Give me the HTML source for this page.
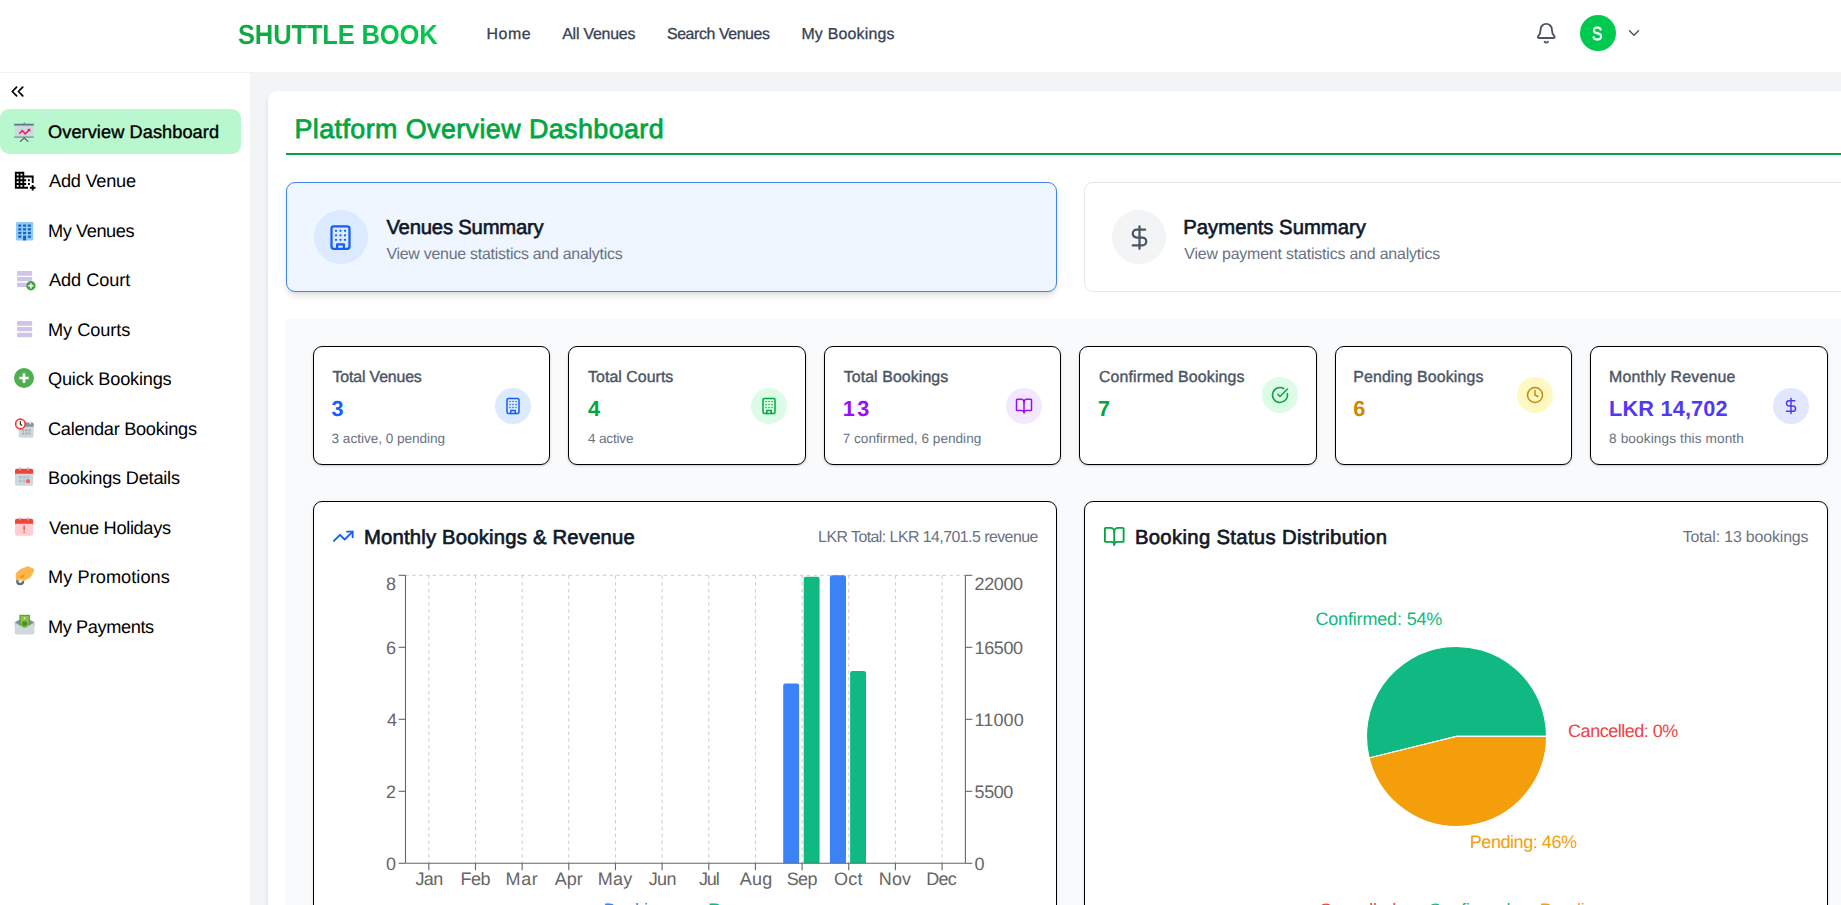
<!DOCTYPE html>
<html><head><meta charset="utf-8"><title>Shuttle Book</title>
<style>
*{box-sizing:border-box}
html,body{margin:0;padding:0}
body{width:1841px;height:905px;overflow:hidden;position:relative;background:#f3f4f6;font-family:"Liberation Sans",sans-serif}
.t{position:absolute;line-height:1;white-space:nowrap;text-rendering:geometricPrecision;font-family:"Liberation Sans",sans-serif}
.a{position:absolute}
svg{position:absolute;overflow:visible}
.lu{fill:none;stroke-width:2;stroke-linecap:round;stroke-linejoin:round}
.stat{position:absolute;top:346px;width:237px;height:119px;background:#fff;border:1px solid #000;border-radius:9px;box-shadow:0 1px 3px rgba(0,0,0,.12),0 1px 2px rgba(0,0,0,.08)}
.circ{position:absolute;width:36px;height:36px;border-radius:50%}
.panel{position:absolute;top:501px;width:744px;height:480px;background:#fff;border:1px solid #000;border-radius:9px;box-shadow:0 1px 3px rgba(0,0,0,.12)}

</style></head>
<body>
<!-- header -->
<div class="a" style="left:0;top:0;width:1841px;height:73.3px;background:#fff;border-bottom:1px solid #f1f2f4"></div>
<svg class="lu" style="left:1535.1px;top:21.9px" width="22.5" height="22.5" viewBox="0 0 24 24" stroke="#4a5565"><path d="M10.268 21a2 2 0 0 0 3.464 0"/><path d="M3.262 15.326A1 1 0 0 0 4 17h16a1 1 0 0 0 .74-1.673C19.41 13.956 18 12.499 18 8A6 6 0 0 0 6 8c0 4.499-1.411 5.956-2.738 7.326"/></svg>
<div class="a" style="left:1579.5px;top:14.8px;width:36px;height:36px;border-radius:50%;background:#00c950"></div>
<svg class="lu" style="left:1625px;top:24px" width="18" height="18" viewBox="0 0 24 24" stroke="#4a5565"><path d="m6 9 6 6 6-6"/></svg>

<!-- sidebar -->
<div class="a" style="left:0;top:73px;width:250px;height:840px;background:#fff"></div>
<svg class="lu" style="left:6.5px;top:80.6px" width="21" height="21" viewBox="0 0 24 24" stroke="#000"><path d="m11 17-5-5 5-5"/><path d="m18 17-5-5 5-5"/></svg>
<div class="a" style="left:0;top:108.8px;width:241px;height:45.2px;background:#b9f8cf;border-radius:9px"></div>
<!-- 0 overview: presentation board (box origin 14,121.4 ; 20x20 units=px) -->
<svg style="left:14px;top:121.8px" width="20" height="20" viewBox="0 0 20 20">
<rect x="9.700" y="0.500" width="1" height="1.500" fill="#546e7a"/>
<rect x="1" y="3.500" width="18.500" height="11" fill="#cfd8dc"/>
<rect x="0.100" y="1.700" width="19.700" height="1.900" fill="#607d8b"/>
<rect x="0.100" y="14.300" width="19.700" height="1.600" fill="#8a9fa9"/>
<path d="M10.200 16 L6.500 19.200 M10.200 16 L13.900 19.200" stroke="#546e7a" stroke-width="1.300" stroke-linecap="round" fill="none"/>
<path d="M5.200 11.700 L8.300 8.700 L11.200 11.900 L15 8.200" stroke="#e91e63" stroke-width="1.500" fill="none" stroke-linejoin="miter"/>
<path d="M13 6.900 L16.400 6.700 L16.200 10.100 Z" fill="#e91e63"/>
</svg>
<!-- 1 add venue: material domain_add -->
<svg style="left:13.100px;top:169px" width="22.500" height="22.500" viewBox="0 0 24 24" fill="#000"><path d="M12 7V3H2v18h14v-2h-4v-2h2v-2h-2v-2h2v-2h-2V9h8v6h2V7H12zM6 19H4v-2h2v2zm0-4H4v-2h2v2zm0-4H4V9h2v2zm0-4H4V5h2v2zm4 12H8v-2h2v2zm0-4H8v-2h2v2zm0-4H8V9h2v2zm0-4H8V5h2v2zm14 12v2h-2v2h-2v-2h-2v-2h2v-2h2v2h2zm-6-8h-2v2h2v-2zm0 4h-2v2h2v-2z"/></svg>
<!-- 2 my venues: blue building -->
<svg style="left:15.700px;top:221.600px" width="17.200" height="18.400" viewBox="0 0 17.200 18.400">
<rect x="0" y="0" width="17.200" height="18.400" rx="1.200" fill="#90caf9"/>
<g fill="#1565c0">
<rect x="2.300" y="2.500" width="3" height="2.200"/><rect x="7.100" y="2.500" width="3" height="2.200"/><rect x="11.900" y="2.500" width="3" height="2.200"/>
<rect x="2.300" y="6.200" width="3" height="2.200"/><rect x="7.100" y="6.200" width="3" height="2.200"/><rect x="11.900" y="6.200" width="3" height="2.200"/>
<rect x="2.300" y="9.900" width="3" height="2.200"/><rect x="7.100" y="9.900" width="3" height="2.200"/><rect x="11.900" y="9.900" width="3" height="2.200"/>
<rect x="2.300" y="13.600" width="3" height="2.200"/><rect x="7.100" y="13.600" width="3" height="4.800"/><rect x="11.900" y="13.600" width="3" height="2.200"/>
</g></svg>
<!-- 3 add court -->
<svg style="left:16.700px;top:271px" width="20" height="20" viewBox="0 0 20 20">
<rect x="0" y="0" width="15.200" height="4.800" rx="1" fill="#d1c4e9"/>
<rect x="0" y="6" width="15.200" height="4.300" rx="1" fill="#d1c4e9"/>
<rect x="0" y="11.800" width="15.200" height="4.300" rx="1" fill="#d1c4e9"/>
<circle cx="13.900" cy="14.800" r="4.700" fill="#43a047"/>
<path d="M13.900 12.200v5.200M11.300 14.800h5.200" stroke="#fff" stroke-width="1.500"/>
</svg>
<!-- 4 my courts -->
<svg style="left:16.700px;top:320.800px" width="20" height="20" viewBox="0 0 20 20">
<rect x="0" y="0" width="15.200" height="4.800" rx="1" fill="#d1c4e9"/>
<rect x="0" y="6" width="15.200" height="4.300" rx="1" fill="#d1c4e9"/>
<rect x="0" y="11.800" width="15.200" height="4.500" rx="1" fill="#d1c4e9"/>
</svg>
<!-- 5 quick bookings -->
<svg style="left:14.300px;top:368.200px" width="20" height="20" viewBox="0 0 20 20">
<circle cx="10" cy="10" r="10" fill="#4caf50"/>
<path d="M10 5.300v9.400M5.300 10h9.400" stroke="#fff" stroke-width="2.700"/>
</svg>
<!-- 6 calendar bookings -->
<svg style="left:14px;top:418px" width="22" height="22" viewBox="0 0 22 22">
<rect x="4.700" y="4.400" width="15" height="15.300" rx="1.800" fill="#cfd8dc"/>
<path d="M6.500 4.400 h11.400 a1.800 1.800 0 0 1 1.800 1.800 v2.500 h-15 v-2.500 a1.800 1.800 0 0 1 1.800 -1.800z" fill="#8497a1"/>
<rect x="15.400" y="3.200" width="1.500" height="3.300" rx="0.700" fill="#e4eaed"/>
<g fill="#9fb0b9"><rect x="8.100" y="11.300" width="2.200" height="2.100"/><rect x="11.300" y="11.300" width="2.200" height="2.100"/><rect x="14.500" y="11.300" width="2.200" height="2.100"/><rect x="8.100" y="14.500" width="2.200" height="2.100"/><rect x="11.300" y="14.500" width="2.200" height="2.100"/><rect x="14.500" y="14.500" width="2.200" height="2.100"/></g>
<circle cx="6.400" cy="6" r="4.800" fill="#fff" stroke="#f44336" stroke-width="1.700"/>
<path d="M6.400 3.200v3l1.600 1.400" stroke="#212121" stroke-width="1.200" fill="none"/>
</svg>
<!-- 7 bookings details -->
<svg style="left:15px;top:467.200px" width="19" height="19" viewBox="0 0 19 19">
<rect x="0" y="1.700" width="18.200" height="17" rx="2" fill="#cfd8dc"/>
<path d="M2 1.700 h14.200 a2 2 0 0 1 2 2 v3 h-18.200 v-3 a2 2 0 0 1 2 -2z" fill="#f44336"/>
<rect x="4.200" y="0.300" width="1.500" height="3.200" rx="0.700" fill="#b0bec5"/><rect x="12.500" y="0.300" width="1.500" height="3.200" rx="0.700" fill="#b0bec5"/>
<g fill="#b0bec5"><rect x="4" y="9" width="2.500" height="2.500"/><rect x="7.800" y="9" width="2.500" height="2.500"/><rect x="11.600" y="9" width="2.500" height="2.500"/><rect x="4" y="12.800" width="2.500" height="2.500"/><rect x="7.800" y="12.800" width="2.500" height="2.500"/></g>
<rect x="11.400" y="12.500" width="3.300" height="3.300" fill="#f44336"/><path d="M12.200 13.300l1.700 1.700M13.900 13.300l-1.700 1.700" stroke="#ff8a80" stroke-width="0.600"/>
</svg>
<!-- 8 venue holidays -->
<svg style="left:15px;top:517.200px" width="19" height="19" viewBox="0 0 19 19">
<rect x="0" y="1.700" width="18.200" height="17" rx="2" fill="#ffcdd2"/>
<path d="M2 1.700 h14.200 a2 2 0 0 1 2 2 v3 h-18.200 v-3 a2 2 0 0 1 2 -2z" fill="#f44336"/>
<rect x="4.200" y="0.300" width="1.500" height="3.200" rx="0.700" fill="#b0bec5"/><rect x="12.500" y="0.300" width="1.500" height="3.200" rx="0.700" fill="#b0bec5"/>
<rect x="8.500" y="8.600" width="1.300" height="4.800" fill="#f44336"/><rect x="8.500" y="14.600" width="1.300" height="1.400" fill="#f44336"/>
</svg>
<!-- 9 my promotions -->
<svg style="left:14px;top:565px" width="22" height="22" viewBox="0 0 22 22">
<circle cx="6.200" cy="16.300" r="2.900" fill="none" stroke="#546e7a" stroke-width="2.300"/>
<path d="M1.600 11.300 C1.600 7 5.500 4 10 2.700 L13.600 1.100 L20.300 4 C19.600 9.500 16 13.800 11 15.300 L8.300 16.800 L3.500 15.600 C2.200 14.600 1.600 13 1.600 11.300 Z" fill="#ffb74d"/>
<path d="M6 12.400 C6.800 10.400 8.800 9.200 11.200 9.200 L9.400 12.300 L7 13.800 Z" fill="#e8952f"/>
<circle cx="6.700" cy="15.400" r="1.500" fill="#ffd9b3"/>
</svg>
<!-- 10 my payments -->
<svg style="left:14px;top:614px" width="22" height="22" viewBox="0 0 22 22">
<path d="M0.800 8.300 L10.600 3 L20.400 8.300 V12 H0.800Z" fill="#78909c"/>
<rect x="5.300" y="0.800" width="10.600" height="13" fill="#689f38"/>
<rect x="6.600" y="2" width="8" height="11" fill="#8bc34a"/>
<circle cx="10.600" cy="4.200" r="0.900" fill="#dcedc8"/>
<circle cx="10.600" cy="9.600" r="2.700" fill="#558b2f"/>
<path d="M0.800 8.300 L10.600 14.600 L20.400 8.300 V18.400 a2 2 0 0 1 -2 2 H2.800 a2 2 0 0 1 -2 -2Z" fill="#cfd8dc"/>
</svg>


<!-- main card -->
<div class="a" style="left:268px;top:91px;width:1700px;height:900px;background:#fff;border-radius:9px;box-shadow:0 4.5px 6.75px -1.1px rgba(0,0,0,.1),0 2.25px 4.5px -2.25px rgba(0,0,0,.1)"></div>
<div class="a" style="left:286px;top:153px;width:1600px;height:2px;background:#00a63e"></div>

<!-- tab cards -->
<div class="a" style="left:286px;top:182px;width:771px;height:110px;background:#eff6ff;border:1px solid #3f83f0;border-radius:9px;box-shadow:0 4.5px 7px -1px rgba(0,0,0,.1),0 2px 4.5px -2px rgba(0,0,0,.1)"></div>
<div class="a" style="left:314px;top:210px;width:54px;height:54px;border-radius:50%;background:#dbeafe"></div>
<svg class="lu" style="left:327px;top:223.6px" width="27" height="27" viewBox="0 0 24 24" stroke="#155dfc"><rect width="16" height="20" x="4" y="2" rx="2" ry="2"/><path d="M9 22v-4h6v4"/><path d="M8 6h.01M16 6h.01M12 6h.01M12 10h.01M12 14h.01M16 10h.01M16 14h.01M8 10h.01M8 14h.01"/></svg>
<div class="a" style="left:1084px;top:182px;width:800px;height:110px;background:#fff;border:1px solid #e5e7eb;border-radius:9px"></div>
<div class="a" style="left:1112px;top:210px;width:54px;height:54px;border-radius:50%;background:#f3f4f6"></div>
<svg class="lu" style="left:1125.5px;top:223.5px" width="27" height="27" viewBox="0 0 24 24" stroke="#4a5565"><line x1="12" x2="12" y1="2" y2="22"/><path d="M17 5H9.500a3.500 3.500 0 0 0 0 7h5a3.500 3.500 0 0 1 0 7H6"/></svg>

<!-- gray area -->
<div class="a" style="left:286px;top:319px;width:1600px;height:700px;background:#f9fafb"></div>

<!-- stat cards -->
<div class="stat" style="left:313px;width:237px"></div>
<div class="stat" style="left:568px;width:238px"></div>
<div class="stat" style="left:824px;width:237px"></div>
<div class="stat" style="left:1079px;width:238px"></div>
<div class="stat" style="left:1335px;width:237px"></div>
<div class="stat" style="left:1590px;width:238px"></div>
<div class="circ" style="left:495px;top:388px;background:#dbeafe"></div>
<svg class="lu" style="left:504px;top:397px" width="18" height="18" viewBox="0 0 24 24" stroke="#155dfc"><rect width="16" height="20" x="4" y="2" rx="2" ry="2"/><path d="M9 22v-4h6v4"/><path d="M8 6h.01M16 6h.01M12 6h.01M12 10h.01M12 14h.01M16 10h.01M16 14h.01M8 10h.01M8 14h.01"/></svg>
<div class="circ" style="left:750.5px;top:388px;background:#dcfce7"></div>
<svg class="lu" style="left:759.5px;top:397px" width="18" height="18" viewBox="0 0 24 24" stroke="#00a63e"><rect width="16" height="20" x="4" y="2" rx="2" ry="2"/><path d="M9 22v-4h6v4"/><path d="M8 6h.01M16 6h.01M12 6h.01M12 10h.01M12 14h.01M16 10h.01M16 14h.01M8 10h.01M8 14h.01"/></svg>
<div class="circ" style="left:1006px;top:388px;background:#f3e8ff"></div>
<svg class="lu" style="left:1015px;top:397px" width="18" height="18" viewBox="0 0 24 24" stroke="#9810fa"><path d="M12 7v14"/><path d="M3 18a1 1 0 0 1-1-1V4a1 1 0 0 1 1-1h5a4 4 0 0 1 4 4 4 4 0 0 1 4-4h5a1 1 0 0 1 1 1v13a1 1 0 0 1-1 1h-6a3 3 0 0 0-3 3 3 3 0 0 0-3-3z"/></svg>
<div class="circ" style="left:1261.7px;top:376.8px;background:#dcfce7"></div>
<svg class="lu" style="left:1270.7px;top:385.8px" width="18" height="18" viewBox="0 0 24 24" stroke="#00a63e"><path d="M21.801 10A10 10 0 1 1 17 3.335"/><path d="m9 11 3 3L22 4"/></svg>
<div class="circ" style="left:1517px;top:376.8px;background:#fef9c2"></div>
<svg class="lu" style="left:1526px;top:385.8px" width="18" height="18" viewBox="0 0 24 24" stroke="#d08700"><circle cx="12" cy="12" r="10"/><polyline points="12 6 12 12 16 14"/></svg>
<div class="circ" style="left:1772.7px;top:387.8px;background:#e0e7ff"></div>
<svg class="lu" style="left:1781.7px;top:396.8px" width="18" height="18" viewBox="0 0 24 24" stroke="#4f39f6"><line x1="12" x2="12" y1="2" y2="22"/><path d="M17 5H9.500a3.500 3.500 0 0 0 0 7h5a3.500 3.500 0 0 1 0 7H6"/></svg>

<!-- panels -->
<div class="panel" style="left:313px"></div>
<div class="panel" style="left:1084px"></div>
<svg style="left:0;top:0" width="1841" height="905" viewBox="0 0 1841 905">
<g stroke="#ccc" stroke-width="1" stroke-dasharray="3.4 3.4" fill="none">
<line x1="405.5" y1="575.3" x2="965.4" y2="575.3"/>
<line x1="428.83" y1="575.3" x2="428.83" y2="863.3"/>
<line x1="475.49" y1="575.3" x2="475.49" y2="863.3"/>
<line x1="522.15" y1="575.3" x2="522.15" y2="863.3"/>
<line x1="568.80" y1="575.3" x2="568.80" y2="863.3"/>
<line x1="615.46" y1="575.3" x2="615.46" y2="863.3"/>
<line x1="662.12" y1="575.3" x2="662.12" y2="863.3"/>
<line x1="708.78" y1="575.3" x2="708.78" y2="863.3"/>
<line x1="755.44" y1="575.3" x2="755.44" y2="863.3"/>
<line x1="802.10" y1="575.3" x2="802.10" y2="863.3"/>
<line x1="848.75" y1="575.3" x2="848.75" y2="863.3"/>
<line x1="895.41" y1="575.3" x2="895.41" y2="863.3"/>
<line x1="942.07" y1="575.3" x2="942.07" y2="863.3"/>
</g>
<path d="M783.20 863.3 V685.60 a2.2 2.2 0 0 1 2.2 -2.2 H796.90 a2.2 2.2 0 0 1 2.2 2.2 V863.3Z" fill="#3b82f6"/>
<path d="M803.70 863.3 V578.90 a2.2 2.2 0 0 1 2.2 -2.2 H817.40 a2.2 2.2 0 0 1 2.2 2.2 V863.3Z" fill="#10b981"/>
<path d="M829.90 863.3 V577.50 a2.2 2.2 0 0 1 2.2 -2.2 H843.80 a2.2 2.2 0 0 1 2.2 2.2 V863.3Z" fill="#3b82f6"/>
<path d="M850.10 863.3 V673.20 a2.2 2.2 0 0 1 2.2 -2.2 H863.80 a2.2 2.2 0 0 1 2.2 2.2 V863.3Z" fill="#10b981"/>
<g stroke="#666" stroke-width="1.1" fill="none">
<line x1="405.5" y1="575.3" x2="405.5" y2="863.3"/>
<line x1="965.4" y1="575.3" x2="965.4" y2="863.3"/>
<line x1="405.5" y1="863.3" x2="965.4" y2="863.3"/>
<line x1="398.6" y1="863.30" x2="405.5" y2="863.30"/>
<line x1="965.4" y1="863.30" x2="972.3" y2="863.30"/>
<line x1="398.6" y1="791.30" x2="405.5" y2="791.30"/>
<line x1="965.4" y1="791.30" x2="972.3" y2="791.30"/>
<line x1="398.6" y1="719.30" x2="405.5" y2="719.30"/>
<line x1="965.4" y1="719.30" x2="972.3" y2="719.30"/>
<line x1="398.6" y1="647.30" x2="405.5" y2="647.30"/>
<line x1="965.4" y1="647.30" x2="972.3" y2="647.30"/>
<line x1="398.6" y1="575.30" x2="405.5" y2="575.30"/>
<line x1="965.4" y1="575.30" x2="972.3" y2="575.30"/>
<line x1="428.83" y1="863.3" x2="428.83" y2="870.1999999999999"/>
<line x1="475.49" y1="863.3" x2="475.49" y2="870.1999999999999"/>
<line x1="522.15" y1="863.3" x2="522.15" y2="870.1999999999999"/>
<line x1="568.80" y1="863.3" x2="568.80" y2="870.1999999999999"/>
<line x1="615.46" y1="863.3" x2="615.46" y2="870.1999999999999"/>
<line x1="662.12" y1="863.3" x2="662.12" y2="870.1999999999999"/>
<line x1="708.78" y1="863.3" x2="708.78" y2="870.1999999999999"/>
<line x1="755.44" y1="863.3" x2="755.44" y2="870.1999999999999"/>
<line x1="802.10" y1="863.3" x2="802.10" y2="870.1999999999999"/>
<line x1="848.75" y1="863.3" x2="848.75" y2="870.1999999999999"/>
<line x1="895.41" y1="863.3" x2="895.41" y2="870.1999999999999"/>
<line x1="942.07" y1="863.3" x2="942.07" y2="870.1999999999999"/>
</g>
<path d="M1456.5 736.4 L1546.5 736.4 A90.0 90.0 0 1 0 1369.12 757.94Z" fill="#10b981" stroke="#fff" stroke-width="1.1" stroke-linejoin="round"/>
<path d="M1456.5 736.4 L1369.12 757.94 A90.0 90.0 0 0 0 1546.5 736.4Z" fill="#f59e0b" stroke="#fff" stroke-width="1.1" stroke-linejoin="round"/>
</svg>
<svg class="lu" style="left:332px;top:525.2px" width="22.500" height="22.500" viewBox="0 0 24 24" stroke="#155dfc"><polyline points="22 7 13.500 15.500 8.500 10.500 2 17"/><polyline points="16 7 22 7 22 13"/></svg>
<svg class="lu" style="left:1102.6px;top:524.7px" width="22.500" height="22.500" viewBox="0 0 24 24" stroke="#00a63e"><path d="M12 7v14"/><path d="M3 18a1 1 0 0 1-1-1V4a1 1 0 0 1 1-1h5a4 4 0 0 1 4 4 4 4 0 0 1 4-4h5a1 1 0 0 1 1 1v13a1 1 0 0 1-1 1h-6a3 3 0 0 0-3 3 3 3 0 0 0-3-3z"/></svg>

<span class="t" style="left:238.27px;top:17px;font-size:27.5px;line-height:35px;font-weight:700;color:#00b84a;letter-spacing:-0.200px;background:linear-gradient(90deg,#12a544,#00c950);-webkit-background-clip:text;background-clip:text;color:transparent;transform:scaleX(0.93);transform-origin:0 0;">SHUTTLE BOOK</span>
<span class="t" style="left:486.50px;top:25px;font-size:15.9px;line-height:20px;font-weight:400;color:#364153;letter-spacing:0.567px;-webkit-text-stroke:0.3px #364153;">Home</span>
<span class="t" style="left:562.20px;top:25px;font-size:15.9px;line-height:20px;font-weight:400;color:#364153;letter-spacing:-0.211px;-webkit-text-stroke:0.3px #364153;">All Venues</span>
<span class="t" style="left:667.00px;top:25px;font-size:15.9px;line-height:20px;font-weight:400;color:#364153;letter-spacing:-0.408px;-webkit-text-stroke:0.3px #364153;">Search Venues</span>
<span class="t" style="left:801.40px;top:25px;font-size:15.9px;line-height:20px;font-weight:400;color:#364153;letter-spacing:0.220px;-webkit-text-stroke:0.3px #364153;">My Bookings</span>
<span class="t" style="left:1591.96px;top:22px;font-size:18.8px;line-height:24px;font-weight:400;color:#fff;letter-spacing:0.190px;-webkit-text-stroke:0.6px #fff;transform:scaleX(0.84);transform-origin:0 0;">S</span>
<span class="t" style="left:48.00px;top:121px;font-size:18.2px;line-height:23px;font-weight:400;color:#000;letter-spacing:0.071px;-webkit-text-stroke:0.4px #000;">Overview Dashboard</span>
<span class="t" style="left:49.00px;top:170px;font-size:18.2px;line-height:23px;font-weight:400;color:#000;letter-spacing:-0.250px;">Add Venue</span>
<span class="t" style="left:48.00px;top:220px;font-size:18.2px;line-height:23px;font-weight:400;color:#000;letter-spacing:-0.425px;">My Venues</span>
<span class="t" style="left:49.00px;top:269px;font-size:18.2px;line-height:23px;font-weight:400;color:#000;letter-spacing:-0.062px;">Add Court</span>
<span class="t" style="left:48.00px;top:319px;font-size:18.2px;line-height:23px;font-weight:400;color:#000;letter-spacing:-0.050px;">My Courts</span>
<span class="t" style="left:48.00px;top:368px;font-size:18.2px;line-height:23px;font-weight:400;color:#000;letter-spacing:-0.208px;">Quick Bookings</span>
<span class="t" style="left:48.00px;top:418px;font-size:18.2px;line-height:23px;font-weight:400;color:#000;letter-spacing:-0.294px;">Calendar Bookings</span>
<span class="t" style="left:48.00px;top:467px;font-size:18.2px;line-height:23px;font-weight:400;color:#000;letter-spacing:-0.233px;">Bookings Details</span>
<span class="t" style="left:49.00px;top:517px;font-size:18.2px;line-height:23px;font-weight:400;color:#000;letter-spacing:-0.338px;">Venue Holidays</span>
<span class="t" style="left:48.00px;top:566px;font-size:18.2px;line-height:23px;font-weight:400;color:#000;letter-spacing:0.050px;">My Promotions</span>
<span class="t" style="left:48.00px;top:616px;font-size:18.2px;line-height:23px;font-weight:400;color:#000;letter-spacing:-0.400px;">My Payments</span>
<span class="t" style="left:294.50px;top:112px;font-size:26.9px;line-height:34px;font-weight:400;color:#00a63e;letter-spacing:0.404px;-webkit-text-stroke:0.75px #00a63e;">Platform Overview Dashboard</span>
<span class="t" style="left:386.40px;top:215px;font-size:20.3px;line-height:26px;font-weight:400;color:#101828;letter-spacing:-0.208px;-webkit-text-stroke:0.6px #101828;">Venues Summary</span>
<span class="t" style="left:386.40px;top:245px;font-size:15.9px;line-height:20px;font-weight:400;color:#6a7282;letter-spacing:-0.238px;">View venue statistics and analytics</span>
<span class="t" style="left:1183.30px;top:215px;font-size:20.3px;line-height:26px;font-weight:400;color:#101828;letter-spacing:0.000px;-webkit-text-stroke:0.6px #101828;">Payments Summary</span>
<span class="t" style="left:1184.30px;top:245px;font-size:15.9px;line-height:20px;font-weight:400;color:#6a7282;letter-spacing:-0.172px;">View payment statistics and analytics</span>
<span class="t" style="left:332.60px;top:368px;font-size:15.9px;line-height:20px;font-weight:400;color:#4a5565;letter-spacing:-0.164px;-webkit-text-stroke:0.4px #4a5565;">Total Venues</span>
<span class="t" style="left:331.60px;top:395px;font-size:21.7px;line-height:28px;font-weight:700;color:#155dfc;letter-spacing:1.200px;">3</span>
<span class="t" style="left:331.60px;top:430px;font-size:13.6px;line-height:17px;font-weight:400;color:#6a7282;letter-spacing:-0.033px;">3 active, 0 pending</span>
<span class="t" style="left:588.10px;top:368px;font-size:15.9px;line-height:20px;font-weight:400;color:#4a5565;letter-spacing:0.036px;-webkit-text-stroke:0.4px #4a5565;">Total Courts</span>
<span class="t" style="left:588.10px;top:395px;font-size:21.7px;line-height:28px;font-weight:700;color:#00a63e;letter-spacing:0.200px;">4</span>
<span class="t" style="left:588.10px;top:430px;font-size:13.6px;line-height:17px;font-weight:400;color:#6a7282;letter-spacing:-0.214px;">4 active</span>
<span class="t" style="left:843.70px;top:368px;font-size:15.9px;line-height:20px;font-weight:400;color:#4a5565;letter-spacing:0.092px;-webkit-text-stroke:0.4px #4a5565;">Total Bookings</span>
<span class="t" style="left:842.70px;top:395px;font-size:21.7px;line-height:28px;font-weight:700;color:#9810fa;letter-spacing:2.400px;">13</span>
<span class="t" style="left:842.70px;top:430px;font-size:13.6px;line-height:17px;font-weight:400;color:#6a7282;letter-spacing:0.014px;">7 confirmed, 6 pending</span>
<span class="t" style="left:1098.90px;top:368px;font-size:15.9px;line-height:20px;font-weight:400;color:#4a5565;letter-spacing:0.147px;-webkit-text-stroke:0.4px #4a5565;">Confirmed Bookings</span>
<span class="t" style="left:1097.90px;top:395px;font-size:21.7px;line-height:28px;font-weight:700;color:#00a63e;letter-spacing:2.400px;">7</span>
<span class="t" style="left:1353.20px;top:368px;font-size:15.9px;line-height:20px;font-weight:400;color:#4a5565;letter-spacing:0.140px;-webkit-text-stroke:0.4px #4a5565;">Pending Bookings</span>
<span class="t" style="left:1353.20px;top:395px;font-size:21.7px;line-height:28px;font-weight:700;color:#d08700;letter-spacing:2.500px;">6</span>
<span class="t" style="left:1609.10px;top:368px;font-size:15.9px;line-height:20px;font-weight:400;color:#4a5565;letter-spacing:0.179px;-webkit-text-stroke:0.4px #4a5565;">Monthly Revenue</span>
<span class="t" style="left:1609.10px;top:395px;font-size:21.7px;line-height:28px;font-weight:700;color:#4f39f6;letter-spacing:0.178px;">LKR 14,702</span>
<span class="t" style="left:1609.10px;top:430px;font-size:13.6px;line-height:17px;font-weight:400;color:#6a7282;letter-spacing:0.125px;">8 bookings this month</span>
<span class="t" style="left:363.90px;top:525px;font-size:20.3px;line-height:26px;font-weight:400;color:#101828;letter-spacing:0.196px;-webkit-text-stroke:0.65px #101828;">Monthly Bookings &amp; Revenue</span>
<span class="t" style="left:818.10px;top:528px;font-size:15.9px;line-height:20px;font-weight:400;color:#6a7282;letter-spacing:-0.540px;">LKR Total: LKR 14,701.5 revenue</span>
<span class="t" style="left:1134.90px;top:525px;font-size:20.3px;line-height:26px;font-weight:400;color:#101828;letter-spacing:0.331px;-webkit-text-stroke:0.65px #101828;">Booking Status Distribution</span>
<span class="t" style="left:1682.80px;top:528px;font-size:15.9px;line-height:20px;font-weight:400;color:#6a7282;letter-spacing:-0.141px;">Total: 13 bookings</span>
<span class="t" style="left:385.90px;top:853px;font-size:18px;line-height:23px;font-weight:400;color:#666;letter-spacing:-0.400px;">0</span>
<span class="t" style="left:974.60px;top:853px;font-size:18px;line-height:23px;font-weight:400;color:#666;letter-spacing:-0.400px;">0</span>
<span class="t" style="left:385.90px;top:781px;font-size:18px;line-height:23px;font-weight:400;color:#666;letter-spacing:0.600px;">2</span>
<span class="t" style="left:974.60px;top:781px;font-size:18px;line-height:23px;font-weight:400;color:#666;letter-spacing:-0.433px;">5500</span>
<span class="t" style="left:386.90px;top:709px;font-size:18px;line-height:23px;font-weight:400;color:#666;letter-spacing:-1.400px;">4</span>
<span class="t" style="left:974.60px;top:709px;font-size:18px;line-height:23px;font-weight:400;color:#666;letter-spacing:0.100px;">11000</span>
<span class="t" style="left:385.90px;top:637px;font-size:18px;line-height:23px;font-weight:400;color:#666;letter-spacing:0.600px;">6</span>
<span class="t" style="left:974.60px;top:637px;font-size:18px;line-height:23px;font-weight:400;color:#666;letter-spacing:-0.400px;">16500</span>
<span class="t" style="left:385.90px;top:573px;font-size:18px;line-height:23px;font-weight:400;color:#666;letter-spacing:0.600px;">8</span>
<span class="t" style="left:974.60px;top:573px;font-size:18px;line-height:23px;font-weight:400;color:#666;letter-spacing:-0.400px;">22000</span>
<span class="t" style="left:415.53px;top:868px;font-size:18px;line-height:23px;font-weight:400;color:#666;letter-spacing:-0.700px;">Jan</span>
<span class="t" style="left:460.49px;top:868px;font-size:18px;line-height:23px;font-weight:400;color:#666;letter-spacing:-0.500px;">Feb</span>
<span class="t" style="left:505.54px;top:868px;font-size:18px;line-height:23px;font-weight:400;color:#666;letter-spacing:0.600px;">Mar</span>
<span class="t" style="left:554.80px;top:868px;font-size:18px;line-height:23px;font-weight:400;color:#666;letter-spacing:0.000px;">Apr</span>
<span class="t" style="left:597.71px;top:868px;font-size:18px;line-height:23px;font-weight:400;color:#666;letter-spacing:0.250px;">May</span>
<span class="t" style="left:648.82px;top:868px;font-size:18px;line-height:23px;font-weight:400;color:#666;letter-spacing:-0.700px;">Jun</span>
<span class="t" style="left:698.93px;top:868px;font-size:18px;line-height:23px;font-weight:400;color:#666;letter-spacing:-1.150px;">Jul</span>
<span class="t" style="left:739.63px;top:868px;font-size:18px;line-height:23px;font-weight:400;color:#666;letter-spacing:0.300px;">Aug</span>
<span class="t" style="left:786.64px;top:868px;font-size:18px;line-height:23px;font-weight:400;color:#666;letter-spacing:-0.550px;">Sep</span>
<span class="t" style="left:834.05px;top:868px;font-size:18px;line-height:23px;font-weight:400;color:#666;letter-spacing:0.200px;">Oct</span>
<span class="t" style="left:878.86px;top:868px;font-size:18px;line-height:23px;font-weight:400;color:#666;letter-spacing:0.050px;">Nov</span>
<span class="t" style="left:926.32px;top:868px;font-size:18px;line-height:23px;font-weight:400;color:#666;letter-spacing:-0.750px;">Dec</span>
<span class="t" style="left:1315.40px;top:608px;font-size:18px;line-height:23px;font-weight:400;color:#10b981;letter-spacing:-0.162px;">Confirmed: 54%</span>
<span class="t" style="left:1568.10px;top:720px;font-size:18px;line-height:23px;font-weight:400;color:#ef4444;letter-spacing:-0.483px;">Cancelled: 0%</span>
<span class="t" style="left:1469.80px;top:831px;font-size:18px;line-height:23px;font-weight:400;color:#f59e0b;letter-spacing:-0.445px;">Pending: 46%</span>
<span class="t" style="left:603.50px;top:899px;font-size:18px;line-height:23px;font-weight:400;color:#3b82f6;letter-spacing:-0.143px;">Bookings</span>
<span class="t" style="left:708.00px;top:899px;font-size:18px;line-height:23px;font-weight:400;color:#10b981;letter-spacing:-0.667px;">Revenue</span>
<span class="t" style="left:1319.00px;top:899px;font-size:18px;line-height:23px;font-weight:400;color:#ef4444;letter-spacing:-0.338px;">Cancelled</span>
<span class="t" style="left:1428.30px;top:899px;font-size:18px;line-height:23px;font-weight:400;color:#10b981;letter-spacing:-0.100px;">Confirmed</span>
<span class="t" style="left:1539.80px;top:899px;font-size:18px;line-height:23px;font-weight:400;color:#f59e0b;letter-spacing:-0.300px;">Pending</span>
</body></html>
